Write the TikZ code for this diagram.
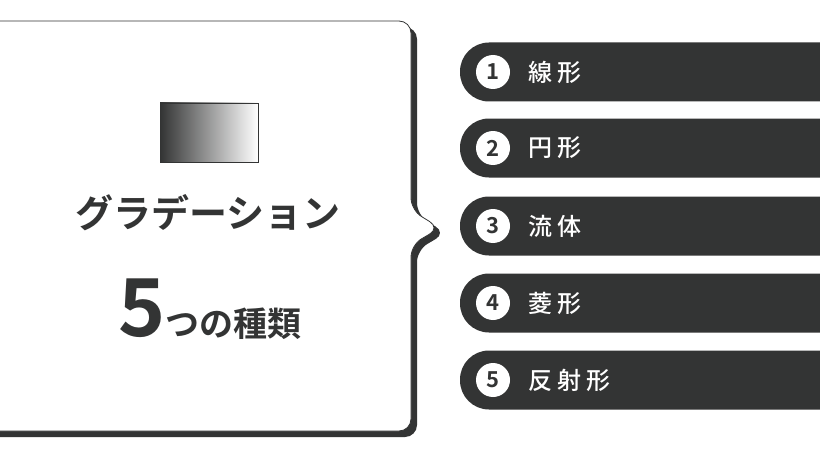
\documentclass[tikz,border=0pt]{standalone}
\usepackage{fontspec}
\newfontfamily\jp{Noto Sans CJK JP Bold}
\newfontfamily\jpm{Noto Sans CJK JP Medium}
\definecolor{dk}{HTML}{333434}
\begin{document}
\begin{tikzpicture}[x=1pt,y=-1pt,
  pill/.style={fill=dk,rounded corners=29pt},
  num/.style={circle,fill=white,minimum size=34pt,inner sep=0pt,text=dk,font=\jp\fontsize{22}{22}\selectfont},
  lab/.style={anchor=west,text=white,font=\jpm\fontsize{24}{24}\selectfont,inner sep=0pt}]
\useasboundingbox (0,0) rectangle (820,460);
\fill[white] (0,0) rectangle (820,460);
% shadow
\fill[dk,rounded corners=12pt] (-20,27) -- (417,27) -- (417,215) -- (446,233) -- (417,250) -- (417,437) -- (-20,437) -- cycle;
\draw[dk,fill=white,line width=0.8pt,rounded corners=12pt] (-20,21) -- (411,21) -- (411,210) -- (440,228) -- (411,245) -- (411,431) -- (-20,431) -- cycle;
\node[draw=dk,line width=0.8pt,minimum width=98pt,minimum height=59pt,inner sep=0pt,left color=dk,right color=white] (g) at (209,132.5) {};
\node[text=dk,font=\jp\fontsize{38}{38}\selectfont] (t) at (208,213) {グラデーション};
\node[text=dk,font=\jp\fontsize{36}{36}\selectfont,anchor=base] (t2) at (210,336) {\fontsize{80}{80}\selectfont 5\fontsize{34}{34}\selectfont つの種類};
\foreach \i/\y/\t in {1/72/線 形,2/148/円 形,3/226/流 体,4/303/菱 形,5/380/反 射 形}{
  \fill[pill] (460,\y-29.5) rectangle (880,\y+29.5);
  \node[num] (n\i) at (493,\y) {\i};
  \node[lab] (l\i) at (528,\y) {\t};
}
\end{tikzpicture}
\end{document}
